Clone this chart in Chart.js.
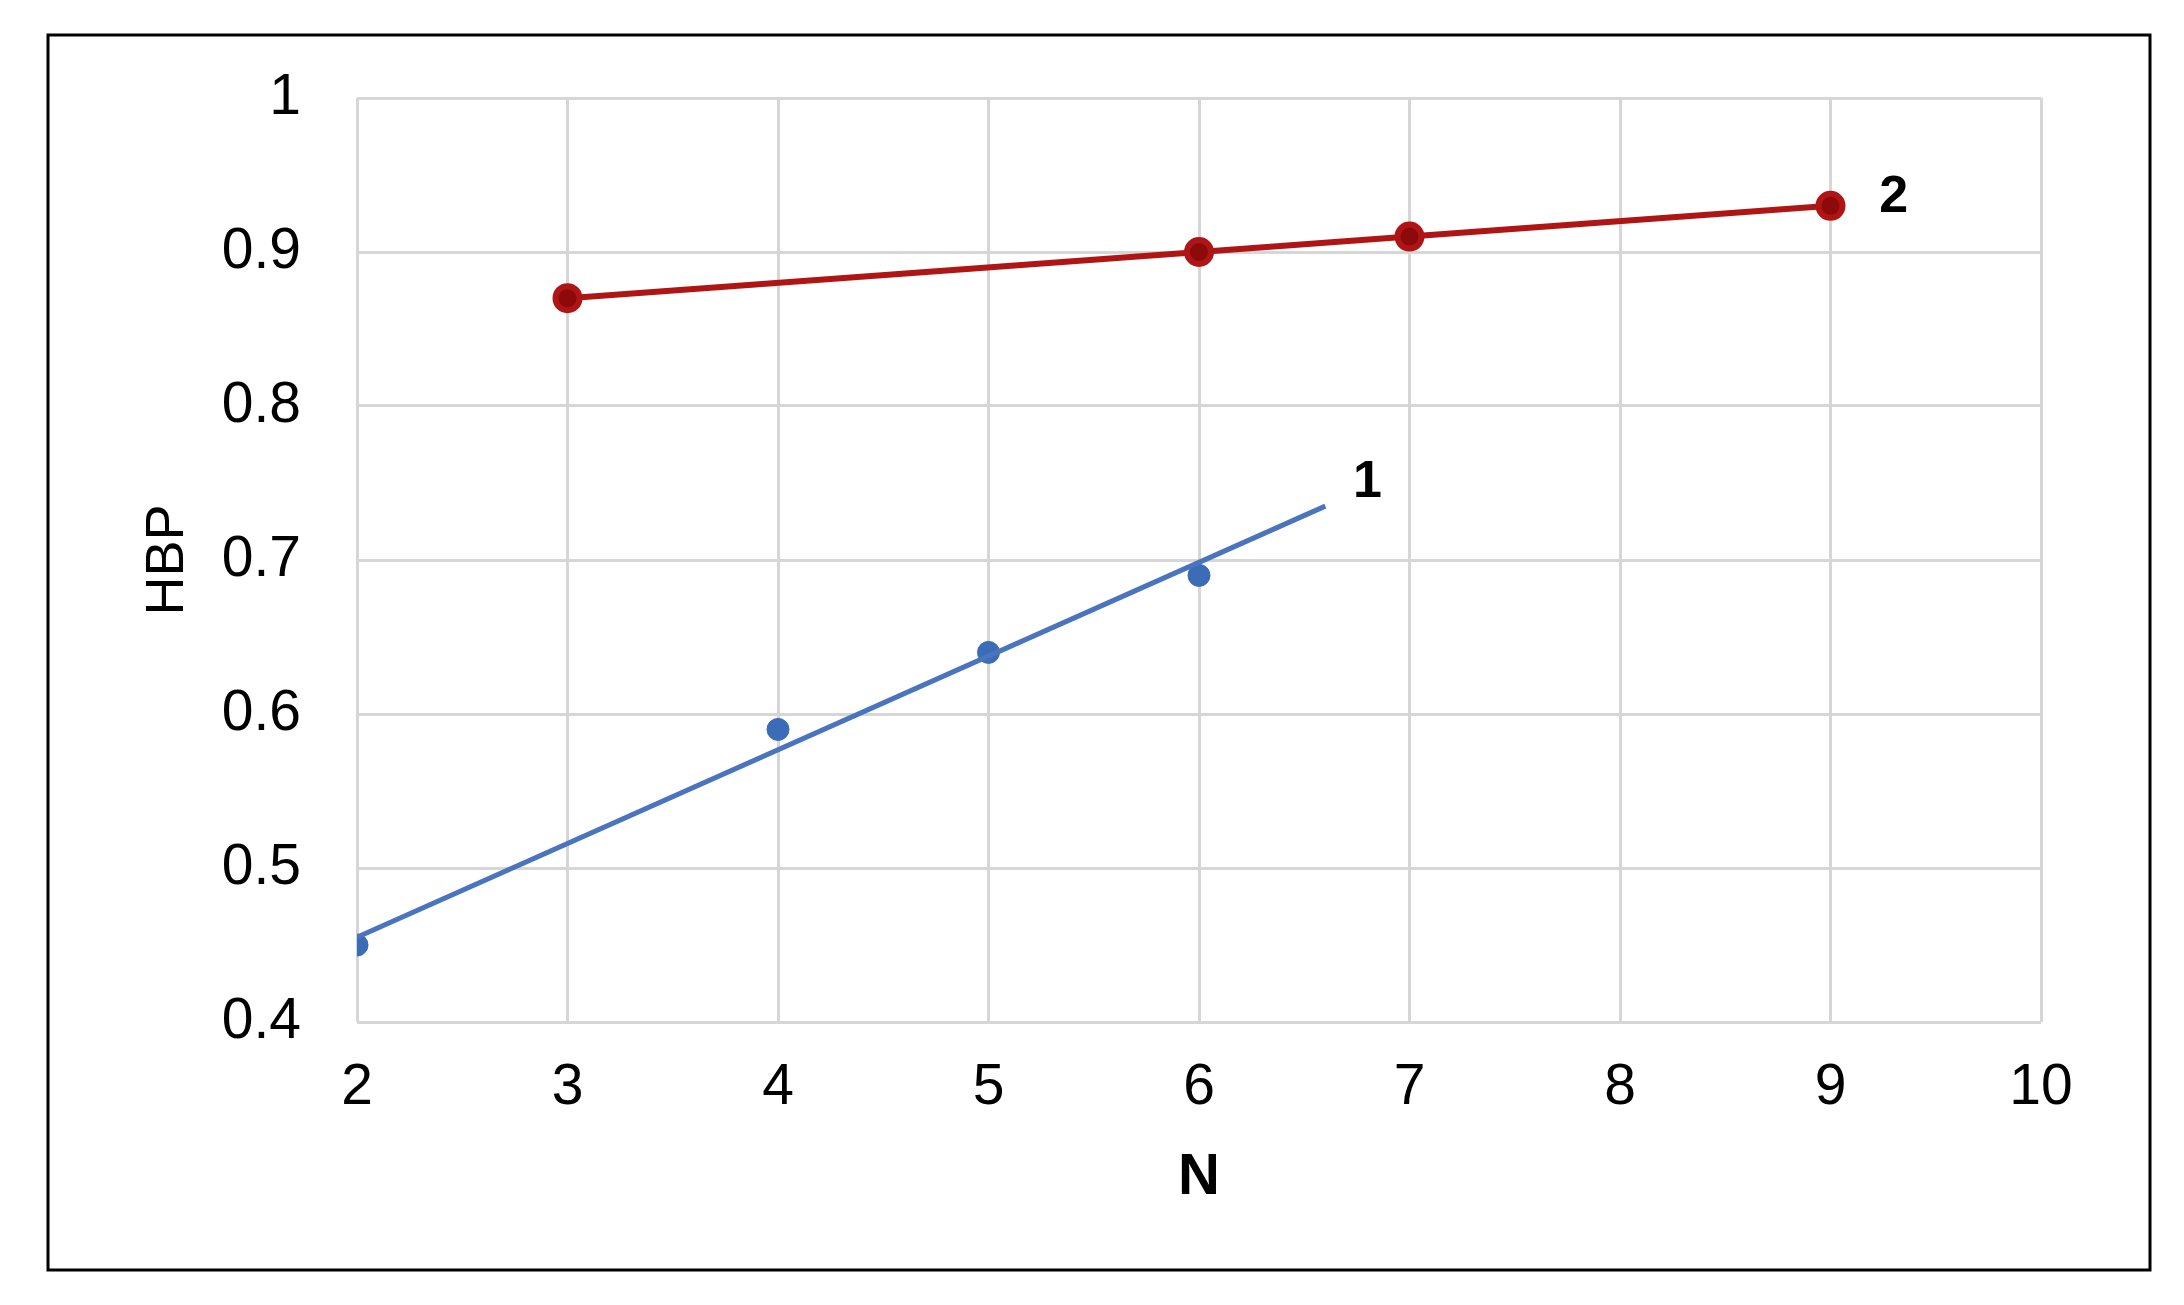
<!DOCTYPE html>
<html>
<head>
<meta charset="utf-8">
<script src="https://cdn.jsdelivr.net/npm/chart.js@4"></script>
<style>
  html, body { margin: 0; padding: 0; background: #fff; }
  #wrap { width: 2184px; height: 1305px; position: relative; }
</style>
</head>
<body>
<div id="wrap"><canvas id="myChart" width="2184" height="1305"></canvas></div>
<script>
// series 1 (blue) measured points and its trend line
var n1 = [2, 4, 5, 6];
var hbp1 = [0.45, 0.59, 0.64, 0.69];
var trendX = [2, 6.6];
var trendY = [0.455, 0.735];

// series 2 (red)
var n2 = [3, 6, 7, 9];
var hbp2 = [0.87, 0.90, 0.91, 0.93];

// curve labels
var curveLabels = ['1', '2'];
var labelX = [6.8, 9.3];
var labelY = [0.75, 0.935];

function toPoints(xs, ys) {
  var pts = [];
  for (var i = 0; i < xs.length; i++) pts.push({ x: xs[i], y: ys[i] });
  return pts;
}

var frameAndLabels = {
  id: 'frameAndLabels',
  beforeDraw: function(chart) {
    var ctx = chart.ctx;
    ctx.save();
    ctx.fillStyle = '#fff';
    ctx.fillRect(0, 0, chart.width, chart.height);
    ctx.restore();
  },
  afterDraw: function(chart) {
    var ctx = chart.ctx;
    ctx.save();
    ctx.strokeStyle = '#000';
    ctx.lineWidth = 3;
    ctx.strokeRect(48, 35, 2102, 1235);
    ctx.fillStyle = '#000';
    ctx.font = 'bold 52px "Liberation Sans", Arial, sans-serif';
    ctx.textBaseline = 'middle';
    ctx.textAlign = 'center';
    for (var i = 0; i < curveLabels.length; i++) {
      ctx.fillText(curveLabels[i], chart.scales.x.getPixelForValue(labelX[i]), chart.scales.y.getPixelForValue(labelY[i]));
    }
    ctx.restore();
  }
};

var tickFont = { family: '"Liberation Sans", Arial, sans-serif', size: 57 };

new Chart(document.getElementById('myChart'), {
  type: 'scatter',
  data: {
    datasets: [
      {
        data: toPoints(trendX, trendY),
        showLine: true,
        borderColor: '#4a74bd',
        borderWidth: 5,
        pointRadius: 0
      },
      {
        data: toPoints(n1, hbp1),
        showLine: false,
        backgroundColor: '#3b6cb8',
        borderColor: '#3b6cb8',
        pointRadius: 11
      },
      {
        data: toPoints(n2, hbp2),
        showLine: true,
        borderColor: '#b01515',
        backgroundColor: '#8c0a0a',
        borderWidth: 6,
        pointRadius: 12
      }
    ]
  },
  options: {
    responsive: false,
    animation: false,
    layout: { padding: { left: 0, top: 98, right: 143, bottom: 0 } },
    plugins: { legend: { display: false }, tooltip: { enabled: false } },
    scales: {
      x: {
        type: 'linear',
        min: 2, max: 10,
        ticks: { stepSize: 1, color: '#000', font: tickFont, padding: 32 },
        grid: { color: '#d6d6d6', lineWidth: 3, drawTicks: false },
        border: { display: false },
        title: { display: true, text: 'N', color: '#000', font: { family: '"Liberation Sans", Arial, sans-serif', size: 58, weight: 'bold' }, padding: { top: 0, bottom: 92 } },
        afterFit: function(s) { s.height = 283; }
      },
      y: {
        min: 0.4, max: 1,
        ticks: { stepSize: 0.1, color: '#000', font: tickFont, padding: 56, callback: function(v) { return Math.round(v * 10) / 10; } },
        grid: { color: '#d6d6d6', lineWidth: 3, drawTicks: false },
        border: { display: false },
        title: { display: true, text: 'HBP', color: '#000', font: { family: '"Liberation Sans", Arial, sans-serif', size: 54 }, padding: { top: 136, bottom: 0 } },
        afterFit: function(s) { s.width = 357; }
      }
    }
  },
  plugins: [frameAndLabels]
});
</script>
</body>
</html>
